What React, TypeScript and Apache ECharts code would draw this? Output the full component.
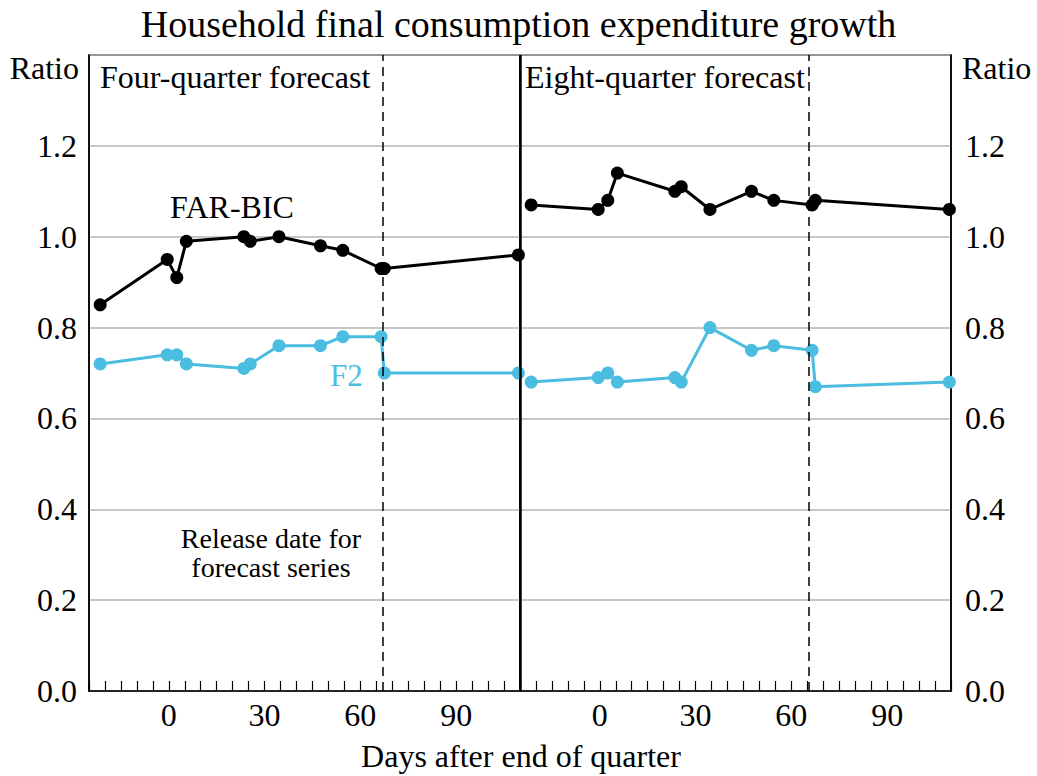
import React, { useEffect, useRef } from "react";
import * as echarts from "echarts";

// Days after the end of the quarter at which each forecast vintage was released
const releaseDays = [-21.5, -0.5, 2.5, 5.5, 23.5, 25.5, 34.5, 47.5, 54.5, 66.5, 67.5, 109.5];

// Four-quarter forecast ratios
const farBicFour = [0.85, 0.95, 0.91, 0.99, 1.0, 0.99, 1.0, 0.98, 0.97, 0.93, 0.93, 0.96];
const f2Four = [0.72, 0.74, 0.74, 0.72, 0.71, 0.72, 0.76, 0.76, 0.78, 0.78, 0.7, 0.7];

// Eight-quarter forecast ratios
const farBicEight = [1.07, 1.06, 1.08, 1.14, 1.1, 1.11, 1.06, 1.1, 1.08, 1.07, 1.08, 1.06];
const f2Eight = [0.68, 0.69, 0.7, 0.68, 0.69, 0.68, 0.8, 0.75, 0.76, 0.75, 0.67, 0.68];

// Release date of the forecast series in each panel
const releaseLineFour = 67;
const releaseLineEight = 65.5;

const xLabels = [0, 30, 60, 90];
const panelTitles = ["Four-quarter forecast", "Eight-quarter forecast"];

const FONT = "'Liberation Serif', 'Times New Roman', serif";
const BLUE = "#4bbde0";
const BLACK = "#000000";

const pairs = (xs: number[], ys: number[]) => xs.map((x, i) => [x, ys[i]]);

export default function App() {
  const ref = useRef<HTMLDivElement>(null);

  useEffect(() => {
    if (!ref.current) return;
    const chart = echarts.init(ref.current, undefined, { renderer: "svg" });

    const xAxisBase = (gridIndex: number) => ({
      type: "value" as const,
      gridIndex,
      min: -25,
      max: 110,
      interval: 5,
      axisLine: { show: true, onZero: false, lineStyle: { color: BLACK, width: 1.5 } },
      axisTick: { show: true, inside: true, length: 10, lineStyle: { color: BLACK, width: 1.2 } },
      splitLine: { show: false },
      axisLabel: {
        fontFamily: FONT,
        fontSize: 32,
        color: BLACK,
        margin: 8,
        showMinLabel: true,
        showMaxLabel: true,
        formatter: (v: number) => (xLabels.includes(v) ? String(v) : ""),
      },
    });

    const yAxisBase = (gridIndex: number, position: "left" | "right") => ({
      type: "value" as const,
      gridIndex,
      position,
      min: 0,
      max: 1.4,
      interval: 0.2,
      axisLine: { show: true, onZero: false, lineStyle: { color: BLACK, width: 1.5 } },
      axisTick: { show: false },
      splitLine: { show: true, lineStyle: { color: "#b4b4b4", width: 1.5 } },
      axisLabel: {
        fontFamily: FONT,
        fontSize: 32,
        color: BLACK,
        margin: position === "left" ? 12 : 14,
        showMaxLabel: false,
        formatter: (v: number) => (v > 1.3 ? "" : v.toFixed(1)),
      },
    });

    const dashed = (x: number) => ({
      silent: true,
      symbol: ["none", "none"],
      label: { show: false },
      lineStyle: { color: BLACK, width: 1.5, type: [9, 6] as any },
      data: [{ xAxis: x }],
    });

    const lineSeries = (
      name: string,
      idx: number,
      ys: number[],
      color: string,
      markLine?: any
    ) => ({
      name,
      type: "line" as const,
      xAxisIndex: idx,
      yAxisIndex: idx,
      data: pairs(releaseDays, ys),
      symbol: "circle",
      symbolSize: 13,
      lineStyle: { color, width: 3 },
      itemStyle: { color },
      z: color === BLACK ? 4 : 3,
      markLine,
    });

    chart.setOption({
      animation: false,
      backgroundColor: "#ffffff",
      title: {
        text: "Household final consumption expenditure growth",
        left: "center",
        top: 0,
        textStyle: { fontFamily: FONT, fontSize: 38, fontWeight: "normal", color: BLACK },
      },
      grid: [
        { left: 89, width: 431, top: 55, bottom: 85, show: true, borderColor: BLACK, borderWidth: 1.5 },
        { left: 520, width: 431, top: 55, bottom: 85, show: true, borderColor: BLACK, borderWidth: 1.5 },
      ],
      xAxis: [xAxisBase(0), xAxisBase(1)],
      yAxis: [yAxisBase(0, "left"), yAxisBase(1, "right")],
      series: [
        lineSeries("F2 four-quarter", 0, f2Four, BLUE, dashed(releaseLineFour)),
        lineSeries("FAR-BIC four-quarter", 0, farBicFour, BLACK, {
          silent: true,
          symbol: ["none", "none"],
          label: { show: false },
          lineStyle: { color: BLACK, width: 2.5, type: "solid" },
          data: [{ xAxis: 110 }],
        }),
        lineSeries("F2 eight-quarter", 1, f2Eight, BLUE, dashed(releaseLineEight)),
        lineSeries("FAR-BIC eight-quarter", 1, farBicEight, BLACK),
      ],
      graphic: [
        {
          type: "text",
          x: 79,
          y: 68,
          style: { text: "Ratio", font: `32px ${FONT}`, fill: BLACK, textAlign: "right", textVerticalAlign: "middle" },
        },
        {
          type: "text",
          x: 962,
          y: 68,
          style: { text: "Ratio", font: `32px ${FONT}`, fill: BLACK, textAlign: "left", textVerticalAlign: "middle" },
        },
        {
          type: "text",
          x: 100,
          y: 77,
          style: { text: panelTitles[0], font: `32px ${FONT}`, fill: BLACK, textAlign: "left", textVerticalAlign: "middle" },
        },
        {
          type: "text",
          x: 525,
          y: 77,
          style: { text: panelTitles[1], font: `32px ${FONT}`, fill: BLACK, textAlign: "left", textVerticalAlign: "middle" },
        },
        {
          type: "text",
          x: 170,
          y: 207,
          style: { text: "FAR-BIC", font: `32px ${FONT}`, fill: BLACK, textAlign: "left", textVerticalAlign: "middle" },
        },
        {
          type: "text",
          x: 330,
          y: 375,
          style: { text: "F2", font: `31px ${FONT}`, fill: BLUE, textAlign: "left", textVerticalAlign: "middle" },
        },
        {
          type: "text",
          x: 271,
          y: 538,
          style: { text: "Release date for", font: `28px ${FONT}`, fill: BLACK, textAlign: "center", textVerticalAlign: "middle" },
        },
        {
          type: "text",
          x: 271,
          y: 567,
          style: { text: "forecast series", font: `28px ${FONT}`, fill: BLACK, textAlign: "center", textVerticalAlign: "middle" },
        },
        {
          type: "text",
          x: 521,
          y: 756,
          style: { text: "Days after end of quarter", font: `32px ${FONT}`, fill: BLACK, textAlign: "center", textVerticalAlign: "middle" },
        },
      ],
    });

    return () => chart.dispose();
  }, []);

  return (
    <div
      ref={ref}
      style={{ position: "fixed", left: 0, top: 0, width: 1037, height: 776, background: "#fff" }}
    />
  );
}
